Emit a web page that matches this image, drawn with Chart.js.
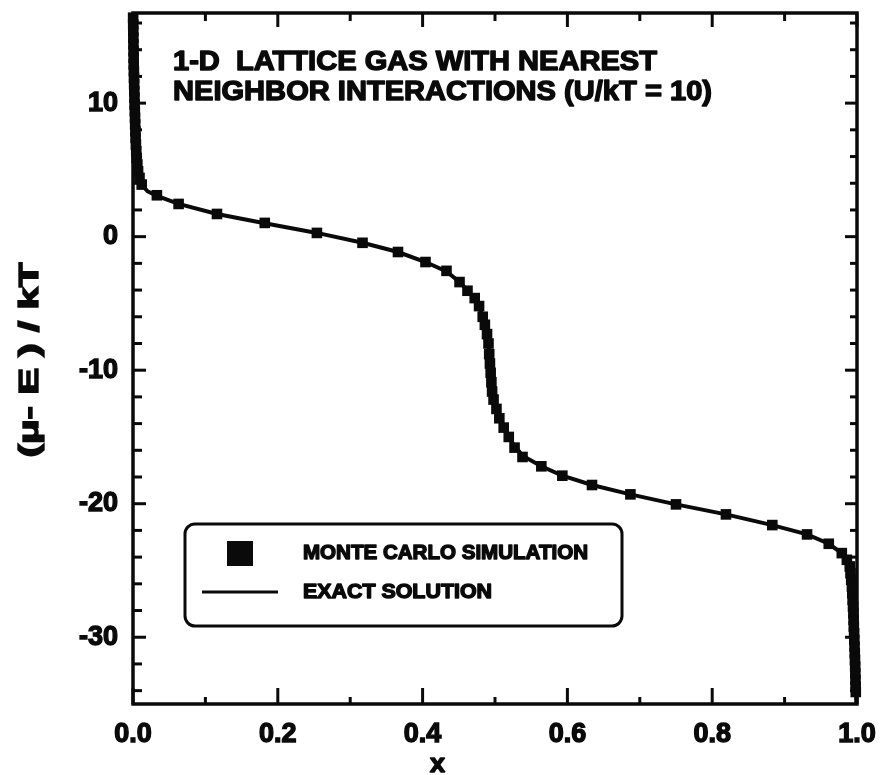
<!DOCTYPE html>
<html>
<head>
<meta charset="utf-8">
<title>1-D Lattice Gas</title>
<script src="https://cdn.jsdelivr.net/npm/chart.js@4.4.1/dist/chart.umd.min.js"></script>
<style>
  html, body { margin: 0; padding: 0; background: #fff; }
  #wrap { width: 880px; height: 775px; }
</style>
</head>
<body>
<div id="wrap"><canvas id="grafica" width="880" height="775"></canvas></div>
<script>
// Monte Carlo points (coverage x, (mu - E)/kT)
const mcX = [0.0002, 0.0003, 0.0004, 0.0005, 0.0006, 0.0008, 0.0009, 0.001, 0.0012, 0.0014, 0.0016, 0.0018, 0.002,
    0.0022, 0.0025, 0.0028, 0.003, 0.0033, 0.0036, 0.004, 0.0045, 0.005, 0.006, 0.007, 0.009,
    0.012, 0.033, 0.063, 0.116, 0.182, 0.254, 0.317, 0.366, 0.404, 0.433, 0.451, 0.462, 0.472, 0.478, 0.483, 0.486,
    0.489, 0.491, 0.492, 0.493, 0.494, 0.495, 0.496, 0.498, 0.502, 0.506, 0.512, 0.519, 0.527, 0.538, 0.564, 0.593,
    0.634, 0.687, 0.750, 0.819, 0.883, 0.931, 0.961, 0.979, 0.986, 0.990, 0.991, 0.992, 0.993, 0.9935, 0.994, 0.9945,
    0.995, 0.9953, 0.9956, 0.996, 0.9963, 0.9966, 0.9969, 0.9972, 0.9975, 0.9977, 0.9979, 0.9981, 0.9983];
const mcY = [16.4, 15.9, 15.4, 14.9, 14.4, 13.9, 13.4, 12.9, 12.4, 11.9, 11.4, 10.9, 10.4,
    9.9, 9.4, 8.9, 8.4, 7.9, 7.4, 6.9, 6.4, 5.9, 5.4, 4.9, 4.4,
    3.9, 3.1, 2.45, 1.7, 1.03, 0.28, -0.46, -1.15, -1.9, -2.56, -3.4, -4.05, -4.6, -5.2, -6.0, -6.6,
    -7.3, -8.0, -8.8, -9.5, -10.2, -10.9, -11.6, -12.2, -12.9, -13.6, -14.3, -15.0, -15.8, -16.5, -17.2, -17.9,
    -18.6, -19.3, -20.05, -20.8, -21.6, -22.3, -23.0, -23.7, -24.2, -24.7, -25.2, -25.7, -26.2, -26.7, -27.2, -27.7,
    -28.2, -28.7, -29.2, -29.7, -30.2, -30.7, -31.2, -31.7, -32.2, -32.7, -33.2, -33.7, -34.1];

// exact solution curve
const exactX = [0.0002, 0.001, 0.002, 0.004, 0.008, 0.012, 0.02, 0.033, 0.063, 0.116, 0.182, 0.254, 0.317, 0.366,
    0.404, 0.433, 0.451, 0.465, 0.476, 0.484, 0.489, 0.492, 0.494, 0.496, 0.499, 0.505, 0.512, 0.522, 0.538, 0.564,
    0.593, 0.634, 0.687, 0.750, 0.819, 0.883, 0.931, 0.961, 0.979, 0.988, 0.992, 0.995, 0.997, 0.998, 0.999];
const exactY = [16.7, 13.0, 10.0, 6.6, 4.6, 3.9, 3.4, 3.05, 2.45, 1.7, 1.0, 0.28, -0.46, -1.15,
    -1.9, -2.6, -3.4, -4.2, -5.0, -6.1, -7.3, -8.6, -10.0, -11.4, -12.5, -13.5, -14.4, -15.3, -16.4, -17.2,
    -17.9, -18.6, -19.3, -20.05, -20.8, -21.6, -22.3, -23.0, -23.7, -24.5, -25.8, -28.0, -31.0, -33.0, -35.0];

// ejes
const xTicks = [0, 0.2, 0.4, 0.6, 0.8, 1.0];
const xMinor = [0.1, 0.3, 0.5, 0.7, 0.9];
const yTicks = [-30, -20, -10, 0, 10];
const yMinor = [-34, -32, -28, -26, -24, -22, -18, -16, -14, -12, -8, -6, -4, -2, 2, 4, 6, 8, 12, 14, 16];

// textos
const titleLines = ["1-D  LATTICE GAS WITH NEAREST", "NEIGHBOR INTERACTIONS (U/kT = 10)"];
const legendLabels = ["MONTE CARLO SIMULATION", "EXACT SOLUTION"];
const xTitle = "x";
const yTitle = "(\u03BC- E ) / kT";

const INK = "#0a0a0a";
const FONT = "'Liberation Sans', Arial, sans-serif";

// dibuja texto ajustado a un ancho dado, con trazo para engrosarlo
function fitText(ctx, text, x, y, width, size) {
    ctx.save();
    ctx.font = `bold ${size}px ${FONT}`;
    const k = width / ctx.measureText(text).width;
    ctx.translate(x, y);
    ctx.scale(k, 1);
    ctx.textAlign = "left";
    ctx.textBaseline = "middle";
    ctx.fillStyle = INK;
    ctx.strokeStyle = INK;
    ctx.lineWidth = 1.4;
    ctx.lineJoin = "round";
    ctx.fillText(text, 0, 0);
    ctx.strokeText(text, 0, 0);
    ctx.restore();
}

const marcoPlugin = {
    id: "marco",
    afterDraw(chart) {
        const { ctx, chartArea: a, scales } = chart;
        const xs = scales.x, ys = scales.y;
        ctx.save();
        ctx.strokeStyle = INK;
        ctx.lineCap = "butt";

        // marco
        ctx.lineWidth = 3.5;
        ctx.strokeRect(a.left, a.top, a.right - a.left, a.bottom - a.top);

        // marcas hacia dentro
        ctx.lineWidth = 3;
        const tick = (x1, y1, x2, y2) => {
            ctx.beginPath();
            ctx.moveTo(x1, y1);
            ctx.lineTo(x2, y2);
            ctx.stroke();
        };
        xTicks.forEach(v => {
            const px = xs.getPixelForValue(v);
            tick(px, a.bottom, px, a.bottom - 16);
            tick(px, a.top, px, a.top + 14);
        });
        xMinor.forEach(v => {
            const px = xs.getPixelForValue(v);
            tick(px, a.bottom, px, a.bottom - 7);
            tick(px, a.top, px, a.top + 8);
        });
        yTicks.forEach(v => {
            const py = ys.getPixelForValue(v);
            tick(a.left, py, a.left + 13, py);
            tick(a.right, py, a.right - 12, py);
        });
        yMinor.forEach(v => {
            const py = ys.getPixelForValue(v);
            tick(a.left, py, a.left + 9, py);
            tick(a.right, py, a.right - 7, py);
        });

        // titulo dentro del area
        fitText(ctx, titleLines[0], 173, 63, 484, 27);
        fitText(ctx, titleLines[1], 173, 93, 539, 27);

        // leyenda
        ctx.lineWidth = 3;
        ctx.beginPath();
        ctx.roundRect(185, 524, 437, 102, 10);
        ctx.stroke();
        ctx.fillStyle = INK;
        ctx.fillRect(227, 541, 26, 25);
        fitText(ctx, legendLabels[0], 303, 553, 285, 20);
        ctx.lineWidth = 3;
        tick(202, 592, 278, 592);
        fitText(ctx, legendLabels[1], 303, 592, 189, 20);

        // titulos de ejes
        fitText(ctx, xTitle, 430, 765, 15, 26);
        ctx.save();
        ctx.translate(31, 360);
        ctx.rotate(-Math.PI / 2);
        ctx.font = `bold 27px ${FONT}`;
        const k = 195 / ctx.measureText(yTitle).width;
        ctx.scale(k, 1);
        ctx.textAlign = "center";
        ctx.textBaseline = "middle";
        ctx.fillStyle = INK;
        ctx.strokeStyle = INK;
        ctx.lineWidth = 1.4;
        ctx.fillText(yTitle, 0, 0);
        ctx.strokeText(yTitle, 0, 0);
        ctx.restore();

        ctx.restore();
    }
};

// quita el relleno que Chart.js reserva para las etiquetas extremas
const sinRelleno = s => {
    s.paddingTop = 0;
    s.paddingBottom = 0;
    s.paddingLeft = 0;
    s.paddingRight = 0;
};

const ctx = document.getElementById("grafica").getContext("2d");

new Chart(ctx, {
    type: "scatter",
    data: {
        datasets: [
            {
                label: legendLabels[1],
                data: exactX.map((x, i) => ({ x, y: exactY[i] })),
                showLine: true,
                borderColor: INK,
                borderWidth: 4,
                pointRadius: 0,
                tension: 0,
                clip: false
            },
            {
                label: legendLabels[0],
                data: mcX.map((x, i) => ({ x, y: mcY[i] })),
                showLine: false,
                pointStyle: "rect",
                pointRadius: 7.5,
                backgroundColor: INK,
                borderColor: INK,
                borderWidth: 0,
                clip: false
            }
        ]
    },
    options: {
        responsive: false,
        animation: false,
        devicePixelRatio: 1,
        layout: { padding: { left: 0, right: 23, top: 13, bottom: 0 } },
        plugins: {
            legend: { display: false },
            tooltip: { enabled: false }
        },
        scales: {
            x: {
                type: "linear",
                min: 0,
                max: 1,
                afterFit: s => { s.height = 71; sinRelleno(s); },
                afterBuildTicks: s => { s.ticks = xTicks.map(v => ({ value: v })); },
                grid: { display: false, drawTicks: false },
                border: { display: false },
                ticks: {
                    color: INK,
                    padding: 14,
                    textStrokeColor: INK,
                    textStrokeWidth: 1.4,
                    font: { family: FONT, size: 27, weight: "bold" },
                    callback: v => v.toFixed(1)
                }
            },
            y: {
                type: "linear",
                min: -35,
                max: 16.75,
                afterFit: s => { s.width = 133; sinRelleno(s); },
                afterBuildTicks: s => { s.ticks = yTicks.map(v => ({ value: v })); },
                grid: { display: false, drawTicks: false },
                border: { display: false },
                ticks: {
                    color: INK,
                    padding: 15,
                    textStrokeColor: INK,
                    textStrokeWidth: 1.4,
                    font: { family: FONT, size: 27, weight: "bold" }
                }
            }
        }
    },
    plugins: [marcoPlugin]
});
</script>
</body>
</html>
